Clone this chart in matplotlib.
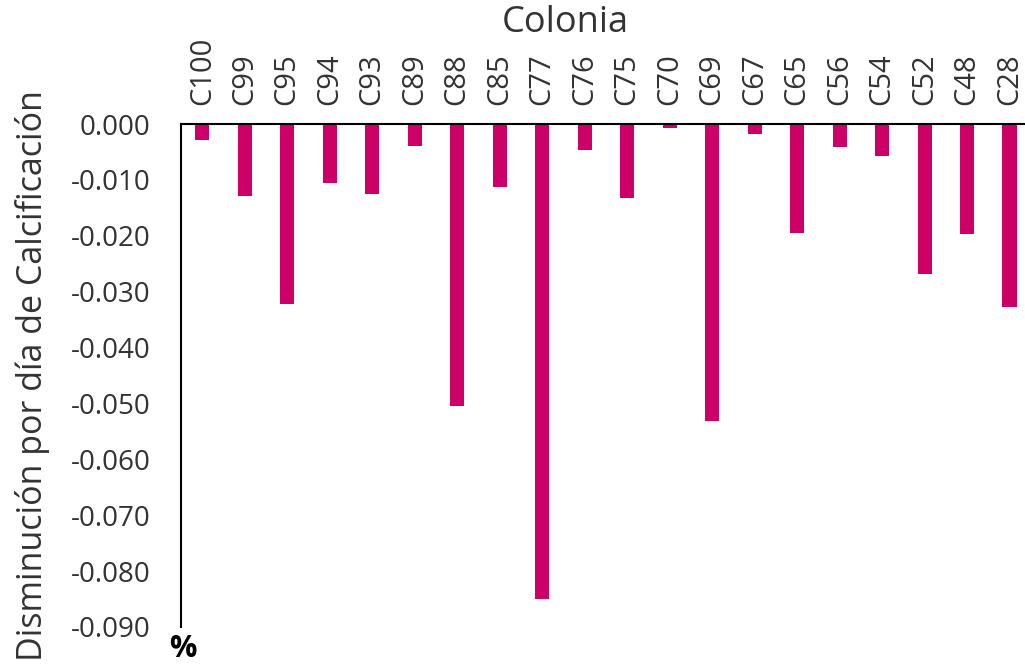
import matplotlib.pyplot as plt
import numpy as np

colonias = ["C100", "C99", "C95", "C94", "C93", "C89", "C88", "C85", "C77", "C76",
            "C75", "C70", "C69", "C67", "C65", "C56", "C54", "C52", "C48", "C28"]
disminucion = [-0.0029, -0.0129, -0.0322, -0.0106, -0.0125, -0.0039, -0.0504, -0.0113,
               -0.0850, -0.0047, -0.0132, -0.0007, -0.0531, -0.0018, -0.0195, -0.0041,
               -0.0057, -0.0268, -0.0197, -0.0327]
yticks = [0.0, -0.01, -0.02, -0.03, -0.04, -0.05, -0.06, -0.07, -0.08, -0.09]

plt.rcParams['font.family'] = ['Open Sans', 'DejaVu Sans']
text_color = "#333333"

fig = plt.figure(figsize=(10.25, 6.66), dpi=100)
ax = fig.add_axes([0.1766, 0.0586, 0.829, 0.7552])

x = np.arange(len(colonias))
ax.bar(x, disminucion, width=0.33, color="#CC0066")

ax.set_xlim(-0.5, len(colonias) - 0.5)
ax.set_ylim(-0.09, 0.0)
ax.set_yticks(yticks)
ax.set_yticklabels([f"{v:.3f}" for v in yticks], fontsize=20, color=text_color)

ax.xaxis.tick_top()
ax.set_xticks(x)
ax.set_xticklabels(colonias, rotation=90, fontsize=21, color=text_color)
ax.tick_params(axis="y", length=0, pad=22)
ax.tick_params(axis="x", length=0, pad=14)
ax.xaxis.set_label_position("top")
ax.set_xlabel("Colonia", fontsize=26, color=text_color)
ax.xaxis.set_label_coords(0.452, 1.182)
ax.set_ylabel("Disminución por día de Calcificación", fontsize=24.5,
              color=text_color, labelpad=15)

for side in ["right", "bottom"]:
    ax.spines[side].set_visible(False)
ax.spines["left"].set_linewidth(1.5)
ax.spines["top"].set_linewidth(1.5)

fig.text(0.178, 0.014, "%", fontsize=22, fontweight="bold", color="black", ha="center")

fig.savefig("out.png", dpi=100)
